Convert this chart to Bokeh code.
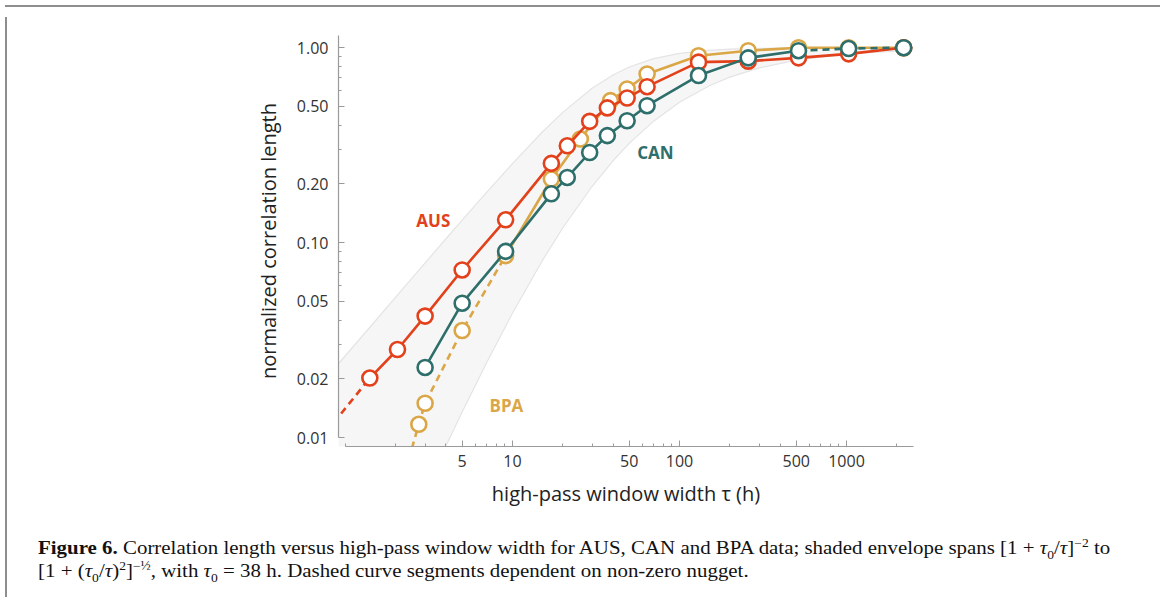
from bokeh.plotting import figure
from bokeh.models import Range1d, FixedTicker, CustomJSTickFormatter, Label, Div
from bokeh.layouts import column, row
from bokeh.embed import file_html
from bokeh.resources import INLINE

# ---------------- data ----------------
aus_tau = [1.4, 2.05, 3.0, 5.0, 9.1, 17.1, 21.3, 29.0, 37.0, 48.6, 64.0, 130, 258, 516, 1030, 2200]
aus_val = [0.0202, 0.0283, 0.0420, 0.0724, 0.131, 0.255, 0.314, 0.419, 0.491, 0.552, 0.631, 0.843, 0.853, 0.887, 0.930, 1.0]
aus_dash_tau = [0.85, 1.4]
aus_dash_val = [0.0119, 0.0202]

can_tau = [3.0, 5.0, 9.1, 17.1, 21.3, 29.0, 37.0, 48.6, 64.0, 130, 258, 516, 1030, 2200]
can_val = [0.0229, 0.0489, 0.0902, 0.178, 0.216, 0.290, 0.354, 0.422, 0.504, 0.720, 0.887, 0.965, 0.99, 1.0]
can_solid_n = 12  # solid up to the 516 h point, dashed afterwards

bpa_tau = [2.75, 3.0, 5.0, 9.1, 17.1, 25.5, 38.6, 48.6, 64.0, 130, 258, 516, 1030, 2200]
bpa_val = [0.0117, 0.0150, 0.0354, 0.0858, 0.212, 0.340, 0.535, 0.614, 0.733, 0.91, 0.965, 1.0, 1.0, 1.0]
bpa_dash_tau = [2.5, 2.75, 3.0, 5.0, 9.1]
bpa_dash_val = [0.0088, 0.0117, 0.0150, 0.0354, 0.0858]

env_tau = [0.9, 1.5, 2, 3, 4, 5, 7, 10, 15, 20, 30, 40, 50, 70, 100, 150, 200, 300, 500, 1000, 2518]
env_lower = [0.000535, 0.00144, 0.0025, 0.00535, 0.00907, 0.01352, 0.0242, 0.0434, 0.0801, 0.1189,
             0.1946, 0.263, 0.3228, 0.420, 0.5251, 0.6366, 0.7062, 0.7878, 0.8637, 0.9281, 0.9705]
env_upper = [0.0237, 0.0394, 0.0526, 0.0787, 0.1047, 0.1305, 0.1812, 0.2545, 0.3672, 0.4657,
             0.6197, 0.725, 0.7962, 0.8789, 0.9348, 0.9694, 0.9824, 0.9921, 0.9971, 0.9993, 0.9999]

x_major = [5, 10, 50, 100, 500, 1000]
x_minor = [1, 2, 3, 4, 6, 7, 8, 9, 20, 30, 40, 60, 70, 80, 90, 200, 300, 400, 600, 700, 800, 900, 2000]
y_major = [0.01, 0.02, 0.05, 0.1, 0.2, 0.5, 1.0]
y_minor = [0.03, 0.04, 0.06, 0.07, 0.08, 0.09, 0.3, 0.4, 0.6, 0.7, 0.8, 0.9]

# ---------------- styles ----------------
C_AUS = "#e2411b"
C_CAN = "#2e6e6b"
C_BPA = "#dba646"
AX = "#9a9a9a"
FONT = "Open Sans"
FRAME_C = "#8e8e8e"

p = figure(width=1151, height=510, x_axis_type="log", y_axis_type="log",
           x_range=Range1d(0.909, 2518), y_range=Range1d(0.0090, 1.155),
           output_backend="svg", toolbar_location=None,
           min_border_left=326, min_border_right=250, min_border_top=23, min_border_bottom=76)
p.outline_line_color = None
p.grid.visible = False
p.background_fill_color = "white"

# envelope
p.varea(x=env_tau, y1=env_lower, y2=env_upper, fill_color="#f6f6f6")
p.line(env_tau, env_lower, line_color="#e4e4e4", line_width=1.2)
p.line(env_tau, env_upper, line_color="#e4e4e4", line_width=1.2)

LW = 2.6
MS = 15

# BPA
p.line(bpa_dash_tau, bpa_dash_val, line_color=C_BPA, line_width=LW, line_dash="7 5")
p.line(bpa_tau[3:], bpa_val[3:], line_color=C_BPA, line_width=LW)
p.scatter(bpa_tau, bpa_val, size=MS, fill_color="white", line_color=C_BPA, line_width=LW)

# AUS
p.line(aus_dash_tau, aus_dash_val, line_color=C_AUS, line_width=LW, line_dash="7 5")
p.line(aus_tau, aus_val, line_color=C_AUS, line_width=LW)
p.scatter(aus_tau, aus_val, size=MS, fill_color="white", line_color=C_AUS, line_width=LW)

# CAN
p.line(can_tau[:can_solid_n], can_val[:can_solid_n], line_color=C_CAN, line_width=LW)
p.line(can_tau[can_solid_n - 1:], can_val[can_solid_n - 1:], line_color=C_CAN, line_width=LW, line_dash="7 5")
p.scatter(can_tau, can_val, size=MS, fill_color="white", line_color=C_CAN, line_width=LW)

# series labels
for txt, tx, ty, col in [("AUS", 3.36, 0.130, C_AUS), ("CAN", 71.8, 0.29, C_CAN), ("BPA", 9.2, 0.0146, C_BPA)]:
    p.add_layout(Label(x=tx, y=ty, text=txt, text_color=col, text_font=FONT, text_font_style="bold",
                       text_font_size="17px", text_align="center", text_baseline="middle"))

# axes
p.xaxis.ticker = FixedTicker(ticks=x_major, minor_ticks=x_minor)
p.yaxis.ticker = FixedTicker(ticks=y_major, minor_ticks=y_minor)
p.xaxis.formatter = CustomJSTickFormatter(code="return String(tick);")
p.yaxis.formatter = CustomJSTickFormatter(code="return tick.toFixed(2);")
p.xaxis.bounds = (1, 2518)
p.yaxis.bounds = (0.01, 1.155)
for ax in (p.xaxis[0], p.yaxis[0]):
    ax.axis_line_color = AX
    ax.axis_line_width = 1.2
    ax.major_tick_line_color = AX
    ax.minor_tick_line_color = AX
    ax.major_tick_in = 6
    ax.major_tick_out = 0
    ax.minor_tick_in = 3
    ax.minor_tick_out = 0
    ax.major_label_text_font = FONT
    ax.major_label_text_font_size = "16px"
    ax.major_label_text_color = "#333333"
    ax.axis_label_text_font = FONT
    ax.axis_label_text_font_size = "20px"
    ax.axis_label_text_font_style = "normal"
    ax.axis_label_text_color = "#222222"
p.xaxis.axis_label = "high-pass window width τ (h)"
p.yaxis.axis_label = "normalized correlation length"
p.xaxis.major_label_standoff = 8
p.yaxis.major_label_standoff = 10
p.xaxis.axis_label_standoff = 10
p.yaxis.axis_label_standoff = 12

sup = "font-size:12px;line-height:0;"
sub = "font-size:12px;line-height:0;"
cap_html = (
    "<div style=\"position:relative;left:21px;top:10px;font-family:'Liberation Serif',serif;"
    "font-size:18.5px;line-height:23px;color:#111;white-space:nowrap;"
    "transform:scaleX(1.13);transform-origin:0 0;\">"
    "<b>Figure 6.</b> Correlation length versus high-pass window width for AUS, CAN and BPA data; "
    f"shaded envelope spans [1 + <i>τ</i><sub style='{sub}'>0</sub>/<i>τ</i>]<sup style='{sup}'>−2</sup> to<br>"
    f"[1 + (<i>τ</i><sub style='{sub}'>0</sub>/<i>τ</i>)<sup style='{sup}'>2</sup>]<sup style='{sup}'>−½</sup>, "
    f"with <i>τ</i><sub style='{sub}'>0</sub> = 38 h. Dashed curve segments dependent on non-zero nugget."
    "</div>"
)
caption = Div(text=cap_html, width=1151, height=70)

bar_style = {"background-color": FRAME_C}
top_bar = Div(text="", width=1155, height=2, styles=bar_style)
left_bar = Div(text="", width=2, height=580, styles=bar_style)
right_bar = Div(text="", width=2, height=580, styles=bar_style)

layout = column(top_bar, row(left_bar, column(p, caption), right_bar))

open("out.html", "w").write(file_html(layout, INLINE))
